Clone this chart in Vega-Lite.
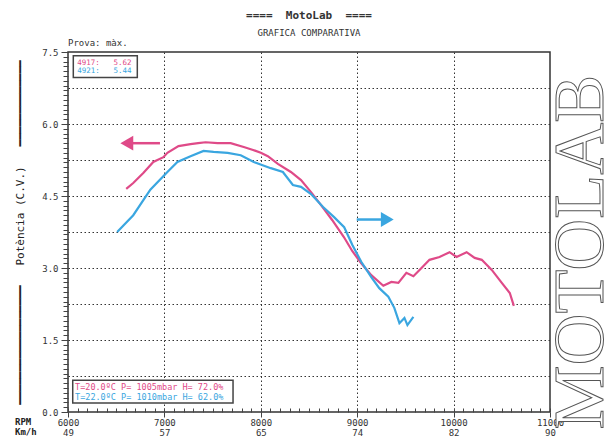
{
  "$schema": "https://vega.github.io/schema/vega-lite/v6.json",
  "width": 482,
  "height": 360,
  "autosize": "none",
  "padding": {"left": 68, "top": 52, "right": 56, "bottom": 24},
  "background": "white",
  "title": {
    "text": "====\u00a0\u00a0MotoLab\u00a0\u00a0====",
    "subtitle": "GRAFICA COMPARATIVA",
    "font": "DejaVu Sans Mono",
    "fontSize": 11,
    "fontWeight": "bold",
    "color": "#333",
    "subtitleFont": "DejaVu Sans Mono",
    "subtitleFontSize": 9,
    "subtitleColor": "#333",
    "anchor": "middle",
    "offset": 1,
    "subtitlePadding": 8
  },
  "config": {
    "view": {"stroke": "#333", "strokeWidth": 1.5},
    "axis": {"labelFont": "DejaVu Sans Mono", "labelColor": "#333", "titleFont": "DejaVu Sans Mono", "titleColor": "#222", "tickColor": "#444"}
  },
  "datasets": {
    "curves": [
      {"run": "4917", "rpm": 6604, "cv": 4.65},
      {"run": "4917", "rpm": 6677, "cv": 4.77},
      {"run": "4917", "rpm": 6781, "cv": 4.98},
      {"run": "4917", "rpm": 6885, "cv": 5.21},
      {"run": "4917", "rpm": 6990, "cv": 5.31},
      {"run": "4917", "rpm": 7031, "cv": 5.40},
      {"run": "4917", "rpm": 7146, "cv": 5.54},
      {"run": "4917", "rpm": 7271, "cv": 5.58},
      {"run": "4917", "rpm": 7350, "cv": 5.60},
      {"run": "4917", "rpm": 7427, "cv": 5.62},
      {"run": "4917", "rpm": 7552, "cv": 5.60},
      {"run": "4917", "rpm": 7687, "cv": 5.60},
      {"run": "4917", "rpm": 7823, "cv": 5.52},
      {"run": "4917", "rpm": 7920, "cv": 5.46},
      {"run": "4917", "rpm": 8000, "cv": 5.40},
      {"run": "4917", "rpm": 8073, "cv": 5.33},
      {"run": "4917", "rpm": 8177, "cv": 5.17},
      {"run": "4917", "rpm": 8312, "cv": 5.00},
      {"run": "4917", "rpm": 8417, "cv": 4.83},
      {"run": "4917", "rpm": 8521, "cv": 4.58},
      {"run": "4917", "rpm": 8625, "cv": 4.31},
      {"run": "4917", "rpm": 8740, "cv": 4.00},
      {"run": "4917", "rpm": 8860, "cv": 3.65},
      {"run": "4917", "rpm": 8950, "cv": 3.35},
      {"run": "4917", "rpm": 9042, "cv": 3.10},
      {"run": "4917", "rpm": 9146, "cv": 2.85},
      {"run": "4917", "rpm": 9271, "cv": 2.63},
      {"run": "4917", "rpm": 9354, "cv": 2.71},
      {"run": "4917", "rpm": 9427, "cv": 2.69},
      {"run": "4917", "rpm": 9510, "cv": 2.90},
      {"run": "4917", "rpm": 9583, "cv": 2.83},
      {"run": "4917", "rpm": 9667, "cv": 3.00},
      {"run": "4917", "rpm": 9750, "cv": 3.17},
      {"run": "4917", "rpm": 9854, "cv": 3.23},
      {"run": "4917", "rpm": 9958, "cv": 3.33},
      {"run": "4917", "rpm": 10031, "cv": 3.23},
      {"run": "4917", "rpm": 10135, "cv": 3.33},
      {"run": "4917", "rpm": 10219, "cv": 3.21},
      {"run": "4917", "rpm": 10292, "cv": 3.17},
      {"run": "4917", "rpm": 10396, "cv": 2.96},
      {"run": "4917", "rpm": 10500, "cv": 2.69},
      {"run": "4917", "rpm": 10583, "cv": 2.48},
      {"run": "4917", "rpm": 10625, "cv": 2.21},
      {"run": "4921", "rpm": 6510, "cv": 3.75},
      {"run": "4921", "rpm": 6677, "cv": 4.10},
      {"run": "4921", "rpm": 6854, "cv": 4.63},
      {"run": "4921", "rpm": 7031, "cv": 5.00},
      {"run": "4921", "rpm": 7135, "cv": 5.21},
      {"run": "4921", "rpm": 7271, "cv": 5.33},
      {"run": "4921", "rpm": 7406, "cv": 5.44},
      {"run": "4921", "rpm": 7510, "cv": 5.42},
      {"run": "4921", "rpm": 7656, "cv": 5.40},
      {"run": "4921", "rpm": 7792, "cv": 5.35},
      {"run": "4921", "rpm": 7927, "cv": 5.21},
      {"run": "4921", "rpm": 8104, "cv": 5.08},
      {"run": "4921", "rpm": 8229, "cv": 5.00},
      {"run": "4921", "rpm": 8333, "cv": 4.73},
      {"run": "4921", "rpm": 8417, "cv": 4.69},
      {"run": "4921", "rpm": 8521, "cv": 4.54},
      {"run": "4921", "rpm": 8646, "cv": 4.27},
      {"run": "4921", "rpm": 8760, "cv": 4.06},
      {"run": "4921", "rpm": 8865, "cv": 3.85},
      {"run": "4921", "rpm": 8950, "cv": 3.48},
      {"run": "4921", "rpm": 9042, "cv": 3.13},
      {"run": "4921", "rpm": 9146, "cv": 2.81},
      {"run": "4921", "rpm": 9229, "cv": 2.58},
      {"run": "4921", "rpm": 9323, "cv": 2.40},
      {"run": "4921", "rpm": 9385, "cv": 2.17},
      {"run": "4921", "rpm": 9438, "cv": 1.85},
      {"run": "4921", "rpm": 9490, "cv": 1.96},
      {"run": "4921", "rpm": 9521, "cv": 1.81},
      {"run": "4921", "rpm": 9583, "cv": 1.98}
    ],
    "boxes": [
      {"rpm": 6055, "rpm2": 6719, "cv": 7.42, "cv2": 6.97},
      {"rpm": 6049, "rpm2": 7712, "cv": 0.66, "cv2": 0.19}
    ],
    "toplegend": [
      {"run": "4917", "rpm": 6096, "cv": 7.28, "t": "4917:\u00a0\u00a0\u00a05.62"},
      {"run": "4921", "rpm": 6096, "cv": 7.11, "t": "4921:\u00a0\u00a0\u00a05.44"}
    ],
    "conditions": [
      {"run": "4917", "rpm": 6073, "cv": 0.53, "t": "T=20.0ºC P= 1005mbar H= 72.0%"},
      {"run": "4921", "rpm": 6073, "cv": 0.32, "t": "T=22.0ºC P= 1010mbar H= 62.0%"}
    ],
    "arrowshafts": [
      {"run": "4917", "rpm": 6660, "rpm2": 6954, "cv": 5.60},
      {"run": "4921", "rpm": 8995, "rpm2": 9257, "cv": 4.01}
    ],
    "arrowheads": [
      {"run": "4917", "rpm": 6610, "cv": 5.60, "dir": "triangle-left"},
      {"run": "4921", "rpm": 9312, "cv": 4.01, "dir": "triangle-right"}
    ],
    "notes": [
      {"rpm": 6000, "cv": 7.5, "t": "Prova: màx."}
    ],
    "axisnames": [
      {"rpm": 6000, "cv": 0, "t": "RPM\nKm/h"}
    ],
    "logo": [
      {"rpm": 11000, "cv": 3.33, "t": "MOTOLAB"}
    ]
  },
  "resolve": {"axis": {"x": "independent", "y": "independent"}},
  "layer": [
    {
      "data": {"name": "boxes"},
      "mark": {"type": "rect", "fill": "white", "stroke": "#444", "strokeWidth": 1.5},
      "encoding": {
        "x": {"field": "rpm", "type": "quantitative", "scale": {"domain": [6000, 11000], "nice": false, "zero": false},
          "axis": {"orient": "bottom", "values": [7000, 8000, 9000, 10000], "grid": true, "gridColor": "#333", "gridDash": [1.5, 2.5], "gridWidth": 1, "labels": false, "ticks": false, "domain": false, "title": null}},
        "x2": {"field": "rpm2"},
        "y": {"field": "cv", "type": "quantitative", "scale": {"domain": [0, 7.5], "nice": false, "zero": false},
          "axis": {"orient": "left", "values": [0.75, 1.5, 2.25, 3, 3.75, 4.5, 5.25, 6, 6.75], "grid": true, "gridColor": "#333", "gridDash": [1.5, 2.5], "gridWidth": 1, "labels": false, "ticks": false, "domain": false, "title": null}},
        "y2": {"field": "cv2"}
      }
    },
    {
      "data": {"name": "curves"},
      "mark": {"type": "line", "strokeWidth": 2.2, "interpolate": "linear"},
      "encoding": {
        "x": {"field": "rpm", "type": "quantitative", "scale": {"domain": [6000, 11000], "nice": false, "zero": false},
          "axis": {"orient": "bottom", "values": [6000, 7000, 8000, 9000, 10000, 11000], "labelExpr": "[datum.label, datum.value == 6000 ? '49' : datum.value == 7000 ? '57' : datum.value == 8000 ? '65' : datum.value == 9000 ? '74' : datum.value == 10000 ? '82' : '90']", "format": "d", "tickSize": 5, "labelPadding": 1, "labelBaseline": "top", "labelFontSize": 9, "labelLineHeight": 10, "labelFlush": false, "labelOverlap": false, "domain": false, "grid": false, "title": null}},
        "y": {"field": "cv", "type": "quantitative", "scale": {"domain": [0, 7.5], "nice": false, "zero": false},
          "axis": {"orient": "left", "values": [0, 1.5, 3, 4.5, 6, 7.5], "format": ".1f", "tickSize": 7, "labelPadding": 3, "labelFontSize": 9, "domain": false, "grid": false,
            "title": "━━━━━━━━━━━━━━━━━━\u00a0\u00a0\u00a0Potència (C.V.)\u00a0\u00a0\u00a0━━━━━━━━━━━━━", "titleFontSize": 11, "titleFontWeight": "normal", "titlePadding": 16}},
        "color": {"field": "run", "type": "nominal", "scale": {"domain": ["4917", "4921"], "range": ["#df4a88", "#3aa6e0"]}, "legend": null}
      }
    },
    {
      "data": {"name": "toplegend"},
      "mark": {"type": "text", "align": "left", "baseline": "middle", "font": "DejaVu Sans Mono", "fontSize": 7.5},
      "encoding": {
        "x": {"field": "rpm", "type": "quantitative", "scale": {"domain": [6000, 11000], "nice": false, "zero": false},
          "axis": {"orient": "bottom", "values": [6000, 6100, 6200, 6300, 6400, 6500, 6600, 6700, 6800, 6900, 7000, 7100, 7200, 7300, 7400, 7500, 7600, 7700, 7800, 7900, 8000, 8100, 8200, 8300, 8400, 8500, 8600, 8700, 8800, 8900, 9000, 9100, 9200, 9300, 9400, 9500, 9600, 9700, 9800, 9900, 10000, 10100, 10200, 10300, 10400, 10500, 10600, 10700, 10800, 10900, 11000], "tickSize": -4, "labels": false, "domain": false, "grid": false, "title": null}},
        "y": {"field": "cv", "type": "quantitative", "scale": {"domain": [0, 7.5], "nice": false, "zero": false},
          "axis": {"orient": "left", "values": [0, 0.1, 0.2, 0.3, 0.4, 0.5, 0.6, 0.7, 0.8, 0.9, 1, 1.1, 1.2, 1.3, 1.4, 1.5, 1.6, 1.7, 1.8, 1.9, 2, 2.1, 2.2, 2.3, 2.4, 2.5, 2.6, 2.7, 2.8, 2.9, 3, 3.1, 3.2, 3.3, 3.4, 3.5, 3.6, 3.7, 3.8, 3.9, 4, 4.1, 4.2, 4.3, 4.4, 4.5, 4.6, 4.7, 4.8, 4.9, 5, 5.1, 5.2, 5.3, 5.4, 5.5, 5.6, 5.7, 5.8, 5.9, 6, 6.1, 6.2, 6.3, 6.4, 6.5, 6.6, 6.7, 6.8, 6.9, 7, 7.1, 7.2, 7.3, 7.4, 7.5], "tickSize": 5, "labels": false, "domain": false, "grid": false, "title": null}},
        "text": {"field": "t"},
        "color": {"field": "run", "type": "nominal", "scale": {"domain": ["4917", "4921"], "range": ["#df4a88", "#3aa6e0"]}, "legend": null}
      }
    },
    {
      "data": {"name": "conditions"},
      "mark": {"type": "text", "align": "left", "baseline": "middle", "font": "DejaVu Sans Mono", "fontSize": 8.5},
      "encoding": {
        "x": {"field": "rpm", "type": "quantitative", "scale": {"domain": [6000, 11000], "nice": false, "zero": false}, "axis": null},
        "y": {"field": "cv", "type": "quantitative", "scale": {"domain": [0, 7.5], "nice": false, "zero": false}, "axis": null},
        "text": {"field": "t"},
        "color": {"field": "run", "type": "nominal", "scale": {"domain": ["4917", "4921"], "range": ["#df4a88", "#3aa6e0"]}, "legend": null}
      }
    },
    {
      "data": {"name": "arrowshafts"},
      "mark": {"type": "rule", "strokeWidth": 2.5},
      "encoding": {
        "x": {"field": "rpm", "type": "quantitative", "scale": {"domain": [6000, 11000], "nice": false, "zero": false}, "axis": null},
        "x2": {"field": "rpm2"},
        "y": {"field": "cv", "type": "quantitative", "scale": {"domain": [0, 7.5], "nice": false, "zero": false}, "axis": null},
        "color": {"field": "run", "type": "nominal", "scale": {"domain": ["4917", "4921"], "range": ["#f5166c", "#14a6e8"]}, "legend": null}
      }
    },
    {
      "data": {"name": "arrowheads"},
      "mark": {"type": "point", "filled": true, "size": 220, "opacity": 1},
      "encoding": {
        "x": {"field": "rpm", "type": "quantitative", "scale": {"domain": [6000, 11000], "nice": false, "zero": false}, "axis": null},
        "y": {"field": "cv", "type": "quantitative", "scale": {"domain": [0, 7.5], "nice": false, "zero": false}, "axis": null},
        "shape": {"field": "dir", "type": "nominal", "scale": null},
        "color": {"field": "run", "type": "nominal", "scale": {"domain": ["4917", "4921"], "range": ["#f5166c", "#14a6e8"]}, "legend": null}
      }
    },
    {
      "data": {"name": "notes"},
      "mark": {"type": "text", "align": "left", "baseline": "middle", "dy": -9, "font": "DejaVu Sans Mono", "fontSize": 9, "color": "#333"},
      "encoding": {
        "x": {"field": "rpm", "type": "quantitative", "scale": {"domain": [6000, 11000], "nice": false, "zero": false}, "axis": null},
        "y": {"field": "cv", "type": "quantitative", "scale": {"domain": [0, 7.5], "nice": false, "zero": false}, "axis": null},
        "text": {"field": "t"}
      }
    },
    {
      "data": {"name": "axisnames"},
      "mark": {"type": "text", "align": "left", "baseline": "top", "dx": -53, "dy": 6, "lineBreak": "\n", "lineHeight": 10, "font": "DejaVu Sans Mono", "fontSize": 9, "fontWeight": "bold", "color": "#222"},
      "encoding": {
        "x": {"field": "rpm", "type": "quantitative", "scale": {"domain": [6000, 11000], "nice": false, "zero": false}, "axis": null},
        "y": {"field": "cv", "type": "quantitative", "scale": {"domain": [0, 7.5], "nice": false, "zero": false}, "axis": null},
        "text": {"field": "t"}
      }
    },
    {
      "data": {"name": "logo"},
      "mark": {"type": "text", "angle": 270, "align": "center", "baseline": "alphabetic", "dy": 53, "font": "Liberation Serif", "fontSize": 72, "fill": "white", "stroke": "#555", "strokeWidth": 1},
      "encoding": {
        "x": {"field": "rpm", "type": "quantitative", "scale": {"domain": [6000, 11000], "nice": false, "zero": false}, "axis": null},
        "y": {"field": "cv", "type": "quantitative", "scale": {"domain": [0, 7.5], "nice": false, "zero": false}, "axis": null},
        "text": {"field": "t"}
      }
    }
  ]
}
